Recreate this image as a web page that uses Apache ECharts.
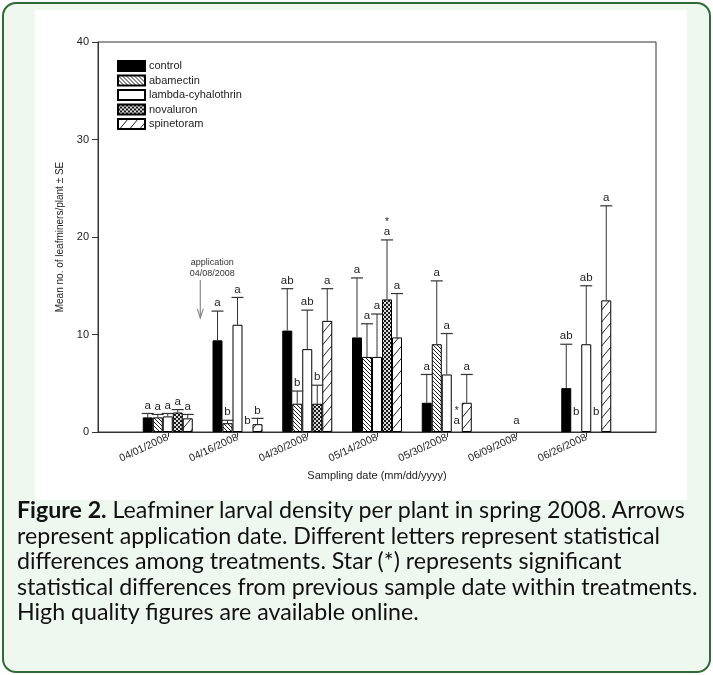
<!DOCTYPE html>
<html>
<head>
<meta charset="utf-8">
<script src="https://cdn.jsdelivr.net/npm/echarts@6/dist/echarts.min.js"></script>
<style>
  html, body { margin: 0; padding: 0; background: #fff; }
  .frame {
    position: absolute; left: 2px; top: 2px; width: 705px; height: 667px;
    border: 2px solid #2f6b35; border-radius: 14px; background: #eef8ee;
    overflow: hidden;
  }
  .plate { position: absolute; left: 31px; top: 6px; width: 652px; height: 490px; background: #fff; }
  #chart { position: absolute; left: 0; top: 0; width: 713px; height: 500px; }
  .caption {
    position: absolute; left: 17px; top: 497px; width: 700px;
    font-family: Lato, "Open Sans", sans-serif; font-size: 23.2px; line-height: 25.5px; color: #111;
    white-space: nowrap;
  }
  .caption b { font-weight: 700; }
</style>
</head>
<body>
<div class="frame"><div class="plate"></div></div>
<div id="chart"></div>
<div class="caption">
  <b>Figure 2.</b> Leafminer larval density per plant in spring 2008. Arrows<br>
  represent application date. Different letters represent statistical<br>
  differences among treatments. Star (*) represents significant<br>
  statistical differences from previous sample date within treatments.<br>
  High quality figures are available online.
</div>
<script>
// 日期（两端留空，使刻度落在 1..7）
const dates = ['', '04/01/2008', '04/16/2008', '04/30/2008', '05/14/2008', '05/30/2008', '06/09/2008', '06/26/2008', '']
const treatments = ['control', 'abamectin', 'lambda-cyhalothrin', 'novaluron', 'spinetoram']

// 均值
const controlMean    = [null, 1.5, 9.4, 10.4, 9.7, 3.0, 0, 4.5, null]
const abamectinMean  = [null, 1.5, 0.9, 2.9, 7.7, 9.0, 0, 0, null]
const lambdaMean     = [null, 1.6, 11.0, 8.5, 7.7, 5.9, 0, 9.0, null]
const novaluronMean  = [null, 2.0, 0, 2.9, 13.6, 0, 0, 0, null]
const spinetoramMean = [null, 1.4, 0.8, 11.4, 9.7, 3.0, 0, 13.5, null]

// 标准误
const controlSE    = [null, 0.4, 3.0, 4.3, 6.1, 2.9, 0, 4.5, null]
const abamectinSE  = [null, 0.3, 0.3, 1.3, 3.4, 6.5, 0, 0, null]
const lambdaSE     = [null, 0.3, 2.8, 4.0, 4.4, 4.2, 0, 6.0, null]
const novaluronSE  = [null, 0.3, 0, 1.9, 6.1, 0, 0, 0, null]
const spinetoramSE = [null, 0.4, 0.6, 3.3, 4.5, 2.9, 0, 9.7, null]

// 显著性字母
const controlLetters    = ['', 'a', 'a', 'ab', 'a', 'a', '', 'ab', '']
const abamectinLetters  = ['', 'a', 'b', 'b', 'a', 'a', '', 'b', '']
const lambdaLetters     = ['', 'a', 'a', 'ab', 'a', 'a', 'a', 'ab', '']
const novaluronLetters  = ['', 'a', 'b', 'b', 'a', 'a', '', 'b', '']
const spinetoramLetters = ['', 'a', 'b', 'a', 'a', 'a', '', 'a', '']

// 与上次采样相比显著（*）
const novaluronStars = ['', '', '', '', '*', '*', '', '', '']

const yTicks = [0, 10, 20, 30, 40]

const means = [controlMean, abamectinMean, lambdaMean, novaluronMean, spinetoramMean]
const ses = [controlSE, abamectinSE, lambdaSE, novaluronSE, spinetoramSE]
const letters = [controlLetters, abamectinLetters, lambdaLetters, novaluronLetters, spinetoramLetters]
const stars = [[], [], [], novaluronStars, []]

const BAR_W = 10

//填充图案
function makePattern(kind) {
  const c = document.createElement('canvas')
  const ctx = c.getContext('2d')
  if (kind === 'back') {
    c.width = 4; c.height = 4
    ctx.fillStyle = '#fff'; ctx.fillRect(0, 0, 4, 4)
    ctx.strokeStyle = '#222'; ctx.lineWidth = 1
    ctx.beginPath(); ctx.moveTo(-1, -1); ctx.lineTo(5, 5); ctx.stroke()
    ctx.beginPath(); ctx.moveTo(-1, 3); ctx.lineTo(1, 5); ctx.stroke()
    ctx.beginPath(); ctx.moveTo(3, -1); ctx.lineTo(5, 1); ctx.stroke()
  } else if (kind === 'check') {
    c.width = 4; c.height = 4
    ctx.fillStyle = '#ddd'; ctx.fillRect(0, 0, 4, 4)
    ctx.fillStyle = '#1a1a1a'; ctx.fillRect(0, 0, 2, 2); ctx.fillRect(2, 2, 2, 2)
  } else {
    c.width = 10; c.height = 12
    ctx.fillStyle = '#fff'; ctx.fillRect(0, 0, 10, 12)
    ctx.strokeStyle = '#222'; ctx.lineWidth = 1
    ctx.beginPath(); ctx.moveTo(0, 12); ctx.lineTo(10, 0); ctx.stroke()
  }
  return { image: c, repeat: 'repeat' }
}

const fills = ['#000', makePattern('back'), '#fff', makePattern('check'), makePattern('fwd')]

const chart = echarts.init(document.getElementById('chart'))

const barSeries = treatments.map((name, k) => ({
  name: name,
  type: 'bar',
  barWidth: BAR_W,
  barGap: '0%',
  itemStyle: { color: fills[k], borderColor: '#000', borderWidth: 1 },
  // 0 值不画柱子
  data: means[k].map(v => (v === 0 ? null : v)),
  animation: false
}))

const errSeries = treatments.map((name, k) => ({
  type: 'custom',
  z: 5,
  clip: false,
  data: dates.map((d, i) => [i, means[k][i] == null ? 0 : means[k][i]]),
  renderItem(params, api) {
    const i = params.dataIndex
    if (!dates[i]) return null
    const m = means[k][i], se = ses[k][i]
    const off = (k - 2) * BAR_W
    const p0 = api.coord([i, m])
    const p1 = api.coord([i, m + se])
    const x = p0[0] + off
    const children = []
    let textY
    if (se > 0) {
      children.push({ type: 'line', shape: { x1: x, y1: p0[1], x2: x, y2: p1[1] }, style: { stroke: '#333', lineWidth: 1 } })
      children.push({ type: 'line', shape: { x1: x - 6, y1: p1[1], x2: x + 6, y2: p1[1] }, style: { stroke: '#333', lineWidth: 1.2 } })
      textY = p1[1] - 2
    } else {
      textY = p0[1] - (i === 7 ? 14 : 5)
    }
    if (letters[k][i]) {
      children.push({ type: 'text', style: { x: x, y: textY, text: letters[k][i], textAlign: 'center', textVerticalAlign: 'bottom', fontSize: 11.5, fontFamily: 'Liberation Sans', fill: '#222' } })
    }
    if (stars[k][i]) {
      children.push({ type: 'text', style: { x: x, y: textY - 11, text: '*', textAlign: 'center', textVerticalAlign: 'bottom', fontSize: 10, fontFamily: 'Liberation Sans', fill: '#222' } })
    }
    return { type: 'group', children: children }
  },
  animation: false
}))

const option = {
  animation: false,
  legend: {
    data: treatments,
    orient: 'vertical',
    left: 112,
    top: 55,
    itemWidth: 27,
    itemHeight: 10,
    itemGap: 2.5,
    icon: 'rect',
    textStyle: { fontSize: 11, fontFamily: 'Liberation Sans', color: '#222', padding: [0, 0, 0, -1] }
  },
  grid: { left: 98, right: 57, top: 42, bottom: 68, show: true, borderColor: '#333', borderWidth: 1 },
  xAxis: {
    type: 'category',
    data: dates,
    boundaryGap: false,
    name: 'Sampling date (mm/dd/yyyy)',
    nameLocation: 'middle',
    nameGap: 31,
    nameTextStyle: { fontSize: 11, fontFamily: 'Liberation Sans', color: '#222' },
    axisLine: { lineStyle: { color: '#333' } },
    axisTick: { length: 5, lineStyle: { color: '#333' }, interval: (i) => i > 0 && i < 8 },
    axisLabel: { interval: 0, rotate: 25, margin: 5, fontSize: 10.5, fontFamily: 'Liberation Sans', color: '#222' }
  },
  yAxis: {
    type: 'value',
    min: yTicks[0],
    max: yTicks[yTicks.length - 1],
    interval: 10,
    name: 'Mean no. of leafminers/plant ± SE',
    nameLocation: 'middle',
    nameGap: 33,
    nameTextStyle: { fontSize: 10, fontFamily: 'Liberation Sans', color: '#222' },
    splitLine: { show: false },
    axisLine: { show: true, lineStyle: { color: '#333' } },
    axisTick: { show: true, length: 6, lineStyle: { color: '#333' } },
    axisLabel: { margin: 9, fontSize: 11, fontFamily: 'Liberation Sans', color: '#222' }
  },
  series: barSeries.concat(errSeries)
}
chart.setOption(option)

// 施药日期箭头 04/08/2008（04/01 与 04/16 之间）
const appFrac = 7 / 15
const xa = chart.convertToPixel({ xAxisIndex: 0 }, 1)
const xb = chart.convertToPixel({ xAxisIndex: 0 }, 2)
const ax = xa + (xb - xa) * appFrac
const yTop = chart.convertToPixel({ yAxisIndex: 0 }, 15.6)
const yTip = chart.convertToPixel({ yAxisIndex: 0 }, 11.7)
chart.setOption({
  graphic: [
    { type: 'text', style: { x: ax + 12, y: chart.convertToPixel({ yAxisIndex: 0 }, 17.4), text: 'application', textAlign: 'center', textVerticalAlign: 'middle', fontSize: 9, fontFamily: 'Liberation Sans', fill: '#333' } },
    { type: 'text', style: { x: ax + 12, y: chart.convertToPixel({ yAxisIndex: 0 }, 16.3), text: '04/08/2008', textAlign: 'center', textVerticalAlign: 'middle', fontSize: 9, fontFamily: 'Liberation Sans', fill: '#333' } },
    { type: 'line', shape: { x1: ax, y1: yTop, x2: ax, y2: yTip }, style: { stroke: '#888', lineWidth: 1.2 } },
    { type: 'polyline', shape: { points: [[ax - 3, yTip - 9], [ax, yTip], [ax + 3, yTip - 9]] }, style: { stroke: '#888', lineWidth: 1.2, fill: null } }
  ]
})
</script>
</body>
</html>
